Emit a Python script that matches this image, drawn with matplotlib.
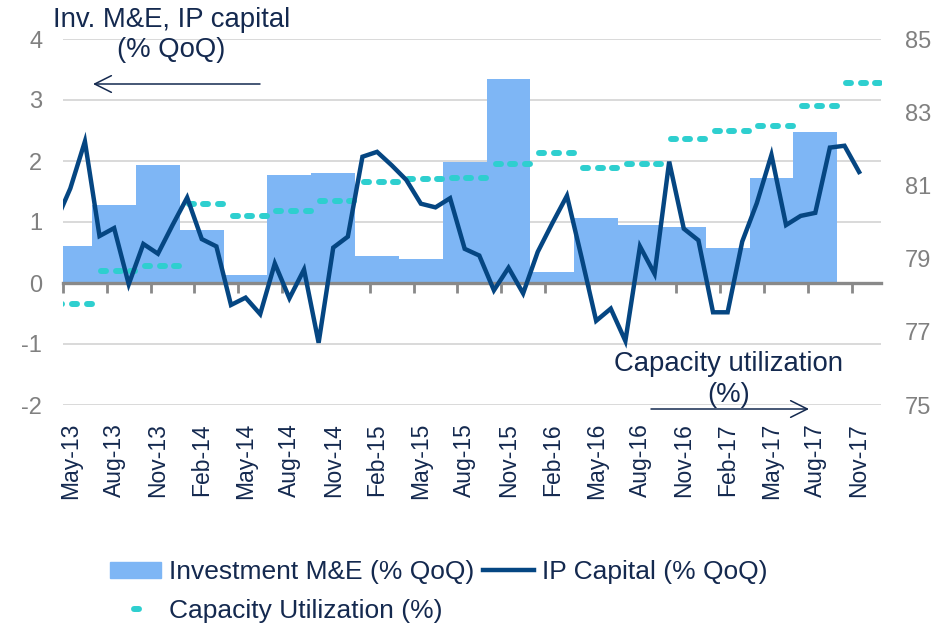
import matplotlib.pyplot as plt
from matplotlib.markers import MarkerStyle
from matplotlib.lines import Line2D
from matplotlib.patches import Patch
import numpy as np

plt.rcParams['font.family'] = ['Liberation Sans', 'DejaVu Sans']
plt.rcParams['axes.unicode_minus'] = False

# month index: May-13 = 0, Apr-13 = -1 (just left of the axis)
tick_labels = ['May-13', 'Aug-13', 'Nov-13', 'Feb-14', 'May-14', 'Aug-14', 'Nov-14',
               'Feb-15', 'May-15', 'Aug-15', 'Nov-15', 'Feb-16', 'May-16', 'Aug-16',
               'Nov-16', 'Feb-17', 'May-17', 'Aug-17', 'Nov-17']

# Investment M&E (% QoQ), quarterly Q2-13 .. Q3-17
inv_me = [0.60, 1.28, 1.93, 0.87, 0.13, 1.77, 1.81, 0.45, 0.40, 1.99,
          3.35, 0.18, 1.06, 0.95, 0.91, 0.57, 1.72, 2.47]

# IP capital (% QoQ), monthly Apr-13 .. Nov-17
ip_capital = [1.00, 1.55, 2.32, 0.77, 0.90, -0.02, 0.64, 0.48, 0.95, 1.40,
              0.72, 0.60, -0.36, -0.24, -0.51, 0.32, -0.25, 0.22, -0.98, 0.58,
              0.76, 2.07, 2.15, 1.93, 1.69, 1.30, 1.24, 1.39, 0.56, 0.45,
              -0.12, 0.25, -0.17, 0.51, 0.98, 1.43, 0.42, -0.62, -0.42, -0.95,
              0.60, 0.15, 1.99, 0.89, 0.70, -0.48, -0.48, 0.68, 1.31, 2.10,
              0.95, 1.10, 1.15, 2.22, 2.25, 1.82]

# Capacity utilization (%), quarterly Q2-13 .. Q4-17 (shown for every month)
capacity = [77.76, 78.65, 78.79, 80.50, 80.16, 80.30, 80.57, 81.10, 81.17, 81.19,
            81.59, 81.88, 81.47, 81.59, 82.28, 82.49, 82.62, 83.17, 83.79]

bar_c = '#7EB6F5'
line_c = '#054682'
cap_c = '#2ECFCF'
navy = '#14294F'
grey = '#808080'

fig = plt.figure(figsize=(9.37, 6.27), dpi=100)
ax = fig.add_axes([63/937, 1-405/627, 818/937, 366/627])
ax2 = ax.twinx()

q_mid = np.arange(len(inv_me)) * 3
ax.bar(q_mid, inv_me, width=3, color=bar_c, zorder=2)

ax.set_xlim(-0.5, 55.5)
ax.set_ylim(-2, 4)
ax.set_yticks(range(-2, 5))
ax.yaxis.grid(True, color='#D9D9D9', lw=1.4)
ax.set_axisbelow(True)
for s in ax.spines.values():
    s.set_visible(False)
ax.tick_params(axis='y', length=0, pad=15, labelsize=17, labelcolor=grey)
ax.set_xticks(np.arange(0, 55, 3))
ax.set_xticklabels(tick_labels, rotation=90)
ax.tick_params(axis='x', length=0, pad=13, labelsize=16.5, labelcolor=navy)

# category axis crossing at zero
sec = ax.secondary_xaxis(0, transform=ax.transData)
sec.set_xticks(np.arange(-0.5, 54, 3))
sec.tick_params(length=7, width=2, color='#898989', labelbottom=False, labeltop=False)
for s in sec.spines.values():
    s.set_color('#898989')
    s.set_linewidth(2.4)
sec.set_zorder(5)

cap_mark = MarkerStyle('_', capstyle='round')
cap_months = np.arange(-1, 56)
ax2.plot(cap_months + 0.25, np.repeat(capacity, 3), ls='none',
         marker=cap_mark, ms=3.6, mew=4.3, color=cap_c)

ip_months = np.arange(-1, 55)
ax2.plot(ip_months, ip_capital, transform=ax.transData, color=line_c, lw=3.2,
         solid_joinstyle='miter')

ax2.set_ylim(75, 85)
ax2.set_yticks(range(75, 86, 2))
for s in ax2.spines.values():
    s.set_visible(False)
ax2.tick_params(axis='y', length=0, pad=17, labelsize=17, labelcolor=grey)

# axis notes
fig.text(171.5/937, 1-27/627, 'Inv. M&E, IP capital', ha='center', va='baseline',
         fontsize=19.8, color=navy)
fig.text(171.5/937, 1-57/627, '(% QoQ)', ha='center', va='baseline',
         fontsize=19.8, color=navy)
fig.text(728.5/937, 1-371/627, 'Capacity utilization', ha='center', va='baseline',
         fontsize=19.8, color=navy)
fig.text(728.5/937, 1-402/627, '(%)', ha='center', va='baseline',
         fontsize=19.8, color=navy)
arrow = dict(arrowstyle='->,head_length=1.2,head_width=0.6', color=navy, lw=1.1,
             shrinkA=0, shrinkB=0)
ax.annotate('', xy=(93/937, 1-84/627), xytext=(260/937, 1-84/627),
            xycoords='figure fraction', arrowprops=arrow)
ax.annotate('', xy=(809/937, 1-409/627), xytext=(651/937, 1-409/627),
            xycoords='figure fraction', arrowprops=arrow)

handles = [Patch(color=bar_c),
           Line2D([], [], ls='none', marker=cap_mark, ms=3.6, mew=4.3, color=cap_c),
           Line2D([], [], color=line_c, lw=3.2)]
labels = ['Investment M&E (% QoQ)', 'Capacity Utilization (%)', 'IP Capital (% QoQ)']
fig.legend(handles, labels, ncol=2, loc='upper left',
           bbox_to_anchor=(110/937, 1-560/627), frameon=False, fontsize=19,
           handlelength=1.95, handleheight=0.55, handletextpad=0.3,
           columnspacing=0.3, labelspacing=0.55, borderpad=0, borderaxespad=0,
           labelcolor=navy)

fig.savefig('out.png', dpi=100)
